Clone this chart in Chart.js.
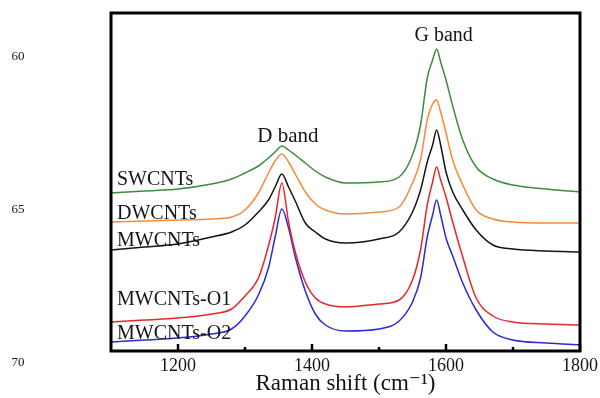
<!DOCTYPE html>
<html>
<head>
<meta charset="utf-8">
<script src="https://cdn.jsdelivr.net/npm/chart.js@4"></script>
<style>
  html, body { margin: 0; padding: 0; background: #fff; }
  #raman { display: block; }
</style>
</head>
<body>
<canvas id="raman" width="600" height="398"></canvas>
<script>
// Raman shift (cm-1)
var wavenumbers = [1100, 1150, 1200, 1250, 1280, 1300, 1320, 1335, 1345, 1355, 1365, 1375, 1390, 1405, 1420, 1450,
                   1500, 1530, 1550, 1562, 1572, 1580, 1586, 1592, 1600, 1610, 1625, 1645, 1670, 1700, 1750, 1800];
// intensities, a.u. (curves already offset from each other)
var swcnts = [158, 160, 162, 167, 172, 178, 185, 193, 199, 205, 201, 196, 188, 180, 174, 168,
              169, 174, 196, 226, 273, 291, 302, 289, 271, 245, 211, 184, 172, 166, 162, 159];
var dwcnts = [129, 130, 131, 132, 134, 141, 158, 178, 190, 197, 189, 177, 159, 147, 141, 137,
              139, 144, 168, 191, 231, 247, 251, 239, 218, 191, 166, 141, 132, 129, 128, 128];
var mwcnts = [101, 104, 107, 114, 119, 126, 139, 151, 164, 177, 164, 150, 128, 119, 112, 108,
              112, 119, 139, 161, 189, 206, 221, 206, 179, 159, 141, 121, 106, 102, 100, 99];
var mwcntsO1 = [29, 31, 33, 37, 42, 55, 73, 105, 133, 168, 129, 99, 69, 53, 47, 44,
                47, 51, 71, 101, 146, 169, 184, 171, 154, 129, 94, 53, 35, 29, 27, 26];
var mwcntsO2 = [9, 11, 13, 17, 22, 35, 56, 83, 114, 142, 123, 94, 60, 37, 26, 20,
                22, 30, 49, 73, 114, 136, 151, 136, 113, 95, 68, 41, 19, 11, 8, 6];
var xTickLabels = [1200, 1400, 1600, 1800];
var minorTicks = [1300, 1500, 1700];

var serif = '"Liberation Serif", "DejaVu Serif", serif';

function series(label, values, color) {
    return {
        label: label,
        data: wavenumbers.map(function(w, i) { return { x: w, y: values[i] }; }),
        borderColor: color,
        borderWidth: 1.5,
        pointRadius: 0,
        fill: false,
        cubicInterpolationMode: 'monotone'
    };
}

var decor = {
    id: 'decor',
    afterDatasetsDraw: function(chart) {
        var ctx = chart.ctx, a = chart.chartArea, x = chart.scales.x;
        ctx.save();
        // frame
        ctx.strokeStyle = '#000';
        ctx.lineWidth = 3;
        ctx.strokeRect(a.left, a.top, a.right - a.left, a.bottom - a.top);
        // inward ticks
        ctx.lineWidth = 2.5;
        xTickLabels.concat(minorTicks).forEach(function(v) {
            var px = x.getPixelForValue(v);
            var len = minorTicks.indexOf(v) >= 0 ? 4 : 7;
            ctx.beginPath();
            ctx.moveTo(px, a.bottom);
            ctx.lineTo(px, a.bottom - len);
            ctx.stroke();
        });
        // curve names
        ctx.fillStyle = '#151515';
        ctx.textBaseline = 'middle';
        ctx.textAlign = 'left';
        ctx.font = '20px ' + serif;
        ctx.fillText('SWCNTs', 117, 180);
        ctx.fillText('DWCNTs', 117, 214);
        ctx.fillText('MWCNTs', 117, 241);
        ctx.fillText('MWCNTs-O1', 117, 300);
        ctx.fillText('MWCNTs-O2', 117, 334);
        // band names
        ctx.textAlign = 'center';
        ctx.font = '21px ' + serif;
        ctx.fillText('D band', x.getPixelForValue(1355) + 6, 136);
        ctx.font = '20px ' + serif;
        ctx.fillText('G band', x.getPixelForValue(1586) + 7, 36);
        // stray page numbers on the left
        ctx.font = '13px ' + serif;
        ctx.fillText('60', 18, 57);
        ctx.fillText('65', 18, 210);
        ctx.fillText('70', 18, 363);
        ctx.restore();
    }
};

var ctx = document.getElementById('raman').getContext('2d');
var chart = new Chart(ctx, {
    type: 'line',
    data: {
        datasets: [
            series('SWCNTs', swcnts, '#3c8c3c'),
            series('DWCNTs', dwcnts, '#f58a3c'),
            series('MWCNTs', mwcnts, '#151515'),
            series('MWCNTs-O1', mwcntsO1, '#e8262a'),
            series('MWCNTs-O2', mwcntsO2, '#2a2ad6')
        ]
    },
    options: {
        responsive: false,
        animation: false,
        layout: { padding: { left: 111, right: 20, top: 13, bottom: 0 } },
        plugins: { legend: { display: false }, tooltip: { enabled: false } },
        scales: {
            x: {
                type: 'linear',
                min: 1100,
                max: 1800,
                grid: { display: false, drawTicks: false },
                border: { display: false },
                afterFit: function(scale) {
                    scale.height = 47;
                    scale.paddingLeft = 0;
                    scale.paddingRight = 0;
                },
                ticks: {
                    stepSize: 100,
                    autoSkip: false,
                    maxRotation: 0,
                    padding: 4,
                    color: '#151515',
                    font: { family: serif, size: 18 },
                    callback: function(v) { return xTickLabels.indexOf(v) >= 0 ? v : ''; }
                },
                title: {
                    display: true,
                    text: 'Raman shift (cm⁻¹)',
                    color: '#151515',
                    font: { family: serif, size: 23 },
                    padding: { top: 0, bottom: 0 }
                }
            },
            y: {
                display: false,
                min: 0,
                max: 338
            }
        }
    },
    plugins: [decor]
});
</script>
</body>
</html>
